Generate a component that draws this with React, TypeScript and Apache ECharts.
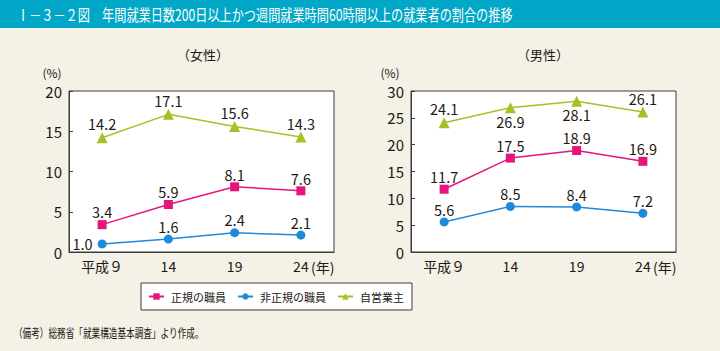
import React, { useEffect, useRef } from "react";
import * as echarts from "echarts";

const categories = ["平成９", "14", "19", "24"];
const seriesNames = ["正規の職員", "非正規の職員", "自営業主"];
const femaleRegular = [3.4, 5.9, 8.1, 7.6];
const femaleNonRegular = [1.0, 1.6, 2.4, 2.1];
const femaleSelf = [14.2, 17.1, 15.6, 14.3];
const maleRegular = [11.7, 17.5, 18.9, 16.9];
const maleNonRegular = [5.6, 8.5, 8.4, 7.2];
const maleSelf = [24.1, 26.9, 28.1, 26.1];

const titleText = "Ⅰ－３－２図　年間就業日数200日以上かつ週間就業時間60時間以上の就業者の割合の推移";
const noteText = "（備考）総務省「就業構造基本調査」より作成。";

const FONT = "'Noto Sans CJK JP', 'Noto Sans', sans-serif";
const PINK = "#e4157c";
const BLUE = "#1f8ad8";
const GREEN = "#a4c126";
const TEXT = "#231815";

export default function App() {
  const ref = useRef<HTMLDivElement>(null);
  useEffect(() => {
    if (!ref.current) return;
    const chart = echarts.init(ref.current, null, { renderer: "svg" });
    const mk = (
      name: string,
      data: number[],
      idx: number,
      color: string,
      symbol: string,
      size: number,
      pos: any
    ) => ({
      name,
      type: "line",
      xAxisIndex: idx,
      yAxisIndex: idx,
      data: data.map((v, i) => {
        const p = Array.isArray(pos) ? pos[i] : pos;
        return {
          value: v,
          label: { position: p, distance: p === "left" ? 5 : 1 },
        };
      }),
      symbol,
      symbolSize: size,
      showAllSymbol: true,
      lineStyle: { color, width: 1.5 },
      itemStyle: { color },
      label: {
        show: true,
        distance: 1,
        fontSize: 14.5,
        fontFamily: FONT,
        color: TEXT,
        formatter: (p: any) => Number(p.value).toFixed(1),
      },
    });
    const xAxis = (idx: number) => ({
      type: "category",
      gridIndex: idx,
      data: categories,
      boundaryGap: true,
      axisLine: { lineStyle: { color: "#3e3a39", width: 1 } },
      axisTick: { inside: true, alignWithLabel: true, length: 4, lineStyle: { color: "#3e3a39" } },
      axisLabel: { fontSize: 14, fontFamily: FONT, color: TEXT, margin: 7 },
    });
    const yAxis = (idx: number, max: number) => ({
      type: "value",
      gridIndex: idx,
      min: 0,
      max,
      interval: 5,
      splitLine: { show: false },
      axisLine: { show: true, lineStyle: { color: "#3e3a39", width: 1 } },
      axisTick: { show: true, inside: true, length: 4, lineStyle: { color: "#3e3a39" } },
      axisLabel: { fontSize: 15, fontFamily: FONT, color: TEXT, margin: 7 },
    });
    chart.setOption({
      animation: false,
      backgroundColor: "#f4f1e6",
      textStyle: { fontFamily: FONT },
      grid: [
        { left: 69, top: 91, width: 265, height: 161, show: true, backgroundColor: "#fff", borderColor: "#3e3a39", borderWidth: 1 },
        { left: 411, top: 91, width: 265, height: 161, show: true, backgroundColor: "#fff", borderColor: "#3e3a39", borderWidth: 1 },
      ],
      xAxis: [xAxis(0), xAxis(1)],
      yAxis: [yAxis(0, 20), yAxis(1, 30)],
      legend: {
        data: seriesNames,
        left: 141,
        top: 283,
        orient: "horizontal",
        backgroundColor: "#fff",
        borderColor: "#3e3a39",
        borderWidth: 1,
        borderRadius: 0,
        padding: [8, 8, 8, 7],
        itemGap: 11,
        itemWidth: 15,
        itemHeight: 8,
        textStyle: { fontSize: 11, fontFamily: FONT, color: TEXT, padding: [0, 0, 0, 2] },
      },
      series: [
        mk(seriesNames[0], femaleRegular, 0, PINK, "rect", 9, "top"),
        mk(seriesNames[1], femaleNonRegular, 0, BLUE, "circle", 9, ["left", "top", "top", "top"]),
        mk(seriesNames[2], femaleSelf, 0, GREEN, "triangle", 11, "top"),
        mk(seriesNames[0], maleRegular, 1, PINK, "rect", 9, "top"),
        mk(seriesNames[1], maleNonRegular, 1, BLUE, "circle", 9, "top"),
        mk(seriesNames[2], maleSelf, 1, GREEN, "triangle", 11, ["top", "bottom", "bottom", "top"]),
      ],
      graphic: [
        { type: "rect", left: 0, top: 0, shape: { width: 720, height: 28 }, style: { fill: "#00a7c6" } },
        { type: "text", x: 17, y: 14, scaleX: 0.76, style: { text: titleText, fill: "#fff", fontSize: 16, fontFamily: FONT, verticalAlign: "middle" } },
        { type: "text", x: 203, y: 54, style: { text: "（女性）", fill: TEXT, fontSize: 13, fontFamily: FONT, align: "center", verticalAlign: "middle" } },
        { type: "text", x: 543, y: 54, style: { text: "（男性）", fill: TEXT, fontSize: 13, fontFamily: FONT, align: "center", verticalAlign: "middle" } },
        { type: "text", x: 52, y: 72, style: { text: "(%)", fill: TEXT, fontSize: 12, fontFamily: FONT, align: "center", verticalAlign: "middle" } },
        { type: "text", x: 390, y: 72, style: { text: "(%)", fill: TEXT, fontSize: 12, fontFamily: FONT, align: "center", verticalAlign: "middle" } },
        { type: "text", x: 311, y: 267, style: { text: "(年)", fill: TEXT, fontSize: 14, fontFamily: FONT, verticalAlign: "middle" } },
        { type: "text", x: 653, y: 267, style: { text: "(年)", fill: TEXT, fontSize: 14, fontFamily: FONT, verticalAlign: "middle" } },
        { type: "text", x: 14, y: 333, scaleX: 0.72, style: { text: noteText, fill: TEXT, fontSize: 12, fontFamily: FONT, verticalAlign: "middle" } },
      ],
    });
    return () => chart.dispose();
  }, []);
  return (
    <div
      ref={ref}
      style={{ position: "fixed", left: 0, top: 0, width: 720, height: 351 }}
    />
  );
}
